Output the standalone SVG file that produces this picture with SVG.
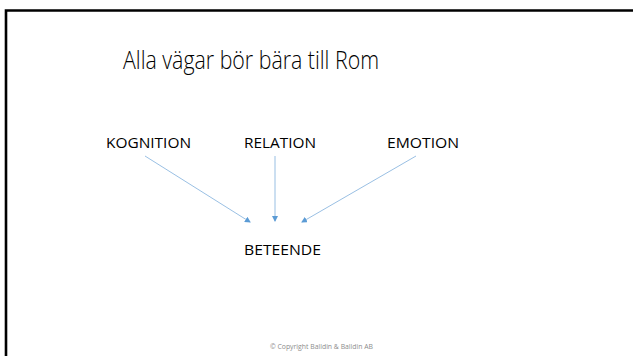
<svg xmlns="http://www.w3.org/2000/svg" width="633" height="356" viewBox="0 0 633 356">
<style>
.lbl{font-family:"Open Sans","Liberation Sans",sans-serif;font-size:15px;fill:#000}
.ttl{font-family:"Open Sans","Liberation Sans",sans-serif;font-weight:300;font-size:25px;fill:#000}
.conn{stroke:#7FAEDC;stroke-width:0.8;fill:none;marker-end:url(#ah)}
.copy{font-family:"Open Sans","Liberation Sans",sans-serif;font-size:6.5px;fill:#8c8c8c}
</style>
<defs>
<marker id="ah" markerWidth="6" markerHeight="6" refX="5" refY="3" orient="auto" markerUnits="userSpaceOnUse">
<path d="M0,0 L6,3 L0,6 Z" fill="#5B9BD5"/>
</marker>
</defs>
<rect x="0" y="0" width="633" height="356" fill="#fff"/>
<path d="M6,356 V10.5 H633" fill="none" stroke="#000" stroke-width="2.6"/>
<g id="title"><text class="ttl" x="123" y="69" textLength="256" lengthAdjust="spacingAndGlyphs">Alla vägar bör bära till Rom</text></g>
<g id="kognition"><text class="lbl" x="106" y="148" textLength="85" lengthAdjust="spacingAndGlyphs">KOGNITION</text></g>
<g id="relation"><text class="lbl" x="244" y="148" textLength="72" lengthAdjust="spacingAndGlyphs">RELATION</text></g>
<g id="emotion"><text class="lbl" x="387" y="148" textLength="72" lengthAdjust="spacingAndGlyphs">EMOTION</text></g>
<g id="beteende"><text class="lbl" x="244" y="255" textLength="77" lengthAdjust="spacingAndGlyphs">BETEENDE</text></g>
<g id="connectors">
<line class="conn" x1="145" y1="156" x2="250" y2="222"/>
<line class="conn" x1="275" y1="156" x2="275" y2="221"/>
<line class="conn" x1="416" y1="156" x2="302" y2="222"/>
</g>
<g id="footer"><text class="copy" x="321.5" y="348.5" text-anchor="middle" textLength="103" lengthAdjust="spacingAndGlyphs">© Copyright Balldin &amp; Balldin AB</text></g>
</svg>
